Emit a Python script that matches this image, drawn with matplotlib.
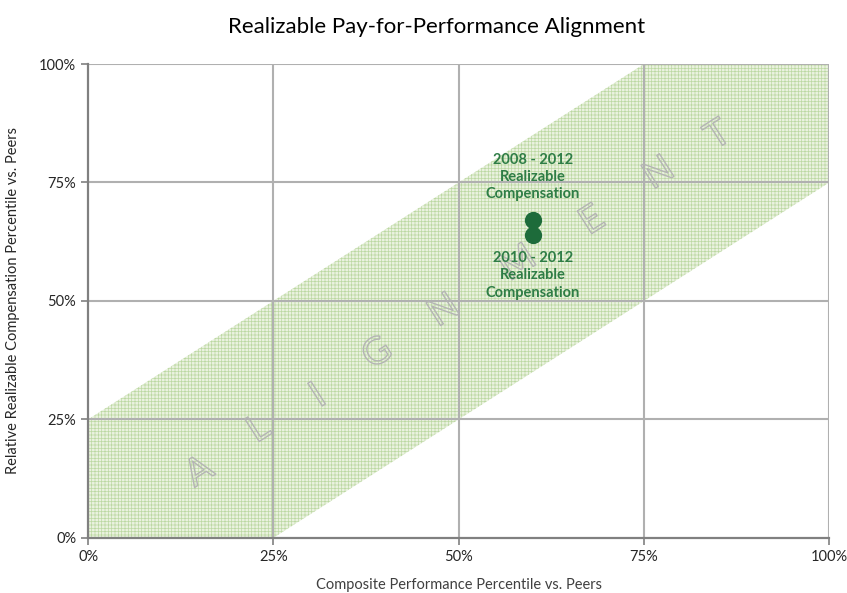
import numpy as np
import matplotlib
matplotlib.use("Agg")
import matplotlib.pyplot as plt
from matplotlib.ticker import PercentFormatter
import matplotlib.patheffects as pe

plt.rcParams["font.family"] = ["Lato", "DejaVu Sans"]
plt.rcParams["hatch.linewidth"] = 0.5

# band edges (percent)
band_x = [0, 25, 75, 100]
band_low = [0, 0, 50, 75]
band_high = [25, 50, 100, 100]

# realizable compensation points
point_x = [60, 60]
point_y = [67, 64]
point_labels = ["2008 - 2012\nRealizable\nCompensation", "2010 - 2012\nRealizable\nCompensation"]

word = "ALIGNMENT"
letter_x = [15, 23, 31, 39, 48, 58, 68, 77, 85]
letter_y = [14, 23, 30, 39, 48, 58, 67, 77, 85]

ticks = [0, 25, 50, 75, 100]

fig = plt.figure(figsize=(8.47, 5.93), dpi=100)
ax = fig.add_axes([0.104, 0.093, 0.875, 0.799])

ax.fill_between(band_x, band_low, band_high, facecolor="#eaf2df",
                edgecolor="#bcd8a2", hatch="+++++", linewidth=0, zorder=1)

for t in ticks[1:]:
    ax.axvline(t, color="#b0b0b0", lw=1.5, zorder=2)
    ax.axhline(t, color="#b0b0b0", lw=1.5, zorder=2)

# slope of the band in pixel space
ang = np.degrees(np.arctan2(474, 741))
for ch, lx, ly in zip(word, letter_x, letter_y):
    ax.text(lx, ly, ch, fontsize=27, color="none", rotation=ang,
            ha="center", va="center", zorder=3,
            path_effects=[pe.withStroke(linewidth=1.0, foreground="#b4b4b4")])

ax.scatter(point_x, point_y, s=130, color="#1d6b3a", zorder=5)
ax.text(point_x[0], point_y[0] + 4, point_labels[0], ha="center", va="bottom",
        fontsize=10.5, fontweight="bold", color="#2e7d46", linespacing=1.3, zorder=6)
ax.text(point_x[1], point_y[1] - 3.5, point_labels[1], ha="center", va="top",
        fontsize=10.5, fontweight="bold", color="#2e7d46", linespacing=1.3, zorder=6)

ax.set_xlim(0, 100)
ax.set_ylim(0, 100)
ax.set_xticks(ticks)
ax.set_yticks(ticks)
ax.xaxis.set_major_formatter(PercentFormatter(decimals=0))
ax.yaxis.set_major_formatter(PercentFormatter(decimals=0))
ax.tick_params(colors="#808080", labelcolor="#262626", labelsize=10.5, length=5, width=1.2)

for s in ["top", "right"]:
    ax.spines[s].set_visible(False)
for s in ["left", "bottom"]:
    ax.spines[s].set_color("#808080")
    ax.spines[s].set_linewidth(1.6)

ax.set_xlabel("Composite Performance Percentile vs. Peers", fontsize=10.5, color="#404040", labelpad=10)
ax.set_ylabel("Relative Realizable Compensation Percentile vs. Peers", fontsize=10.5, color="#262626", labelpad=14)
fig.text(0.515, 0.955, "Realizable Pay-for-Performance Alignment", ha="center", va="center", fontsize=16)

fig.savefig("out.png", dpi=100)
